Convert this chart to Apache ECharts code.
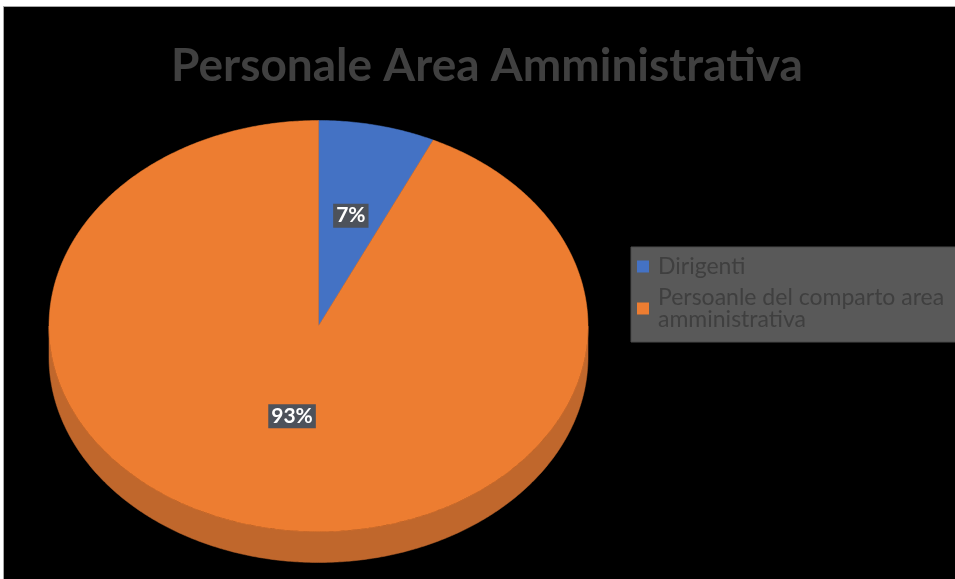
<!DOCTYPE html>
<html>
<head>
<meta charset="utf-8">
<script src="https://cdn.jsdelivr.net/npm/echarts@6/dist/echarts.min.js"></script>
<style>
  html, body { margin: 0; padding: 0; background: #ffffff; width: 955px; height: 579px; overflow: hidden; }
  #chart { position: absolute; left: 3px; top: 6px; width: 951px; height: 572px; background: #000000; border-left: 1px solid #a6a6a6; border-top: 1px solid #a6a6a6; }
</style>
</head>
<body>
<div id="chart"></div>
<script>
// ---- data ----
const titleText = 'Personale Area Amministrativa';
const categories = ['Dirigenti', 'Persoanle del comparto area amministrativa'];
const values = [7, 93];

// ---- styles / layout ----
const topColors = ['#4472c4', '#ed7d31'];
const sideColors = ['#345ba0', '#c0672c'];
const labelRadius = [0.55, 0.45];
const PIE = { cx: 314.5, cy: 319, rx: 269.5, ry: 205.5, depth: 31 };

const total = values.reduce((a, b) => a + b, 0);

function makeRender(idx) {
  return function (params, api) {
    const v = api.value(0);
    let before = 0;
    for (let k = 0; k < idx; k++) before += values[k];
    const a0 = before / total * Math.PI * 2;
    const a1 = (before + v) / total * Math.PI * 2;
    const th0 = a0 - Math.PI / 2, th1 = a1 - Math.PI / 2;
    const pt = (th, dy) => [PIE.cx + PIE.rx * Math.cos(th), PIE.cy + PIE.ry * Math.sin(th) + (dy || 0)];
    const N = Math.max(8, Math.ceil((th1 - th0) / (Math.PI / 360)));
    const children = [];
    // side wall (front half only)
    const s = Math.max(th0, 0), e = Math.min(th1, Math.PI);
    if (e > s) {
      const sidePts = [];
      const M = Math.max(8, Math.ceil((e - s) / (Math.PI / 360)));
      for (let j = 0; j <= M; j++) sidePts.push(pt(s + (e - s) * j / M, 0));
      for (let j = M; j >= 0; j--) sidePts.push(pt(s + (e - s) * j / M, PIE.depth));
      children.push({ type: 'polygon', shape: { points: sidePts }, style: { fill: sideColors[idx], stroke: sideColors[idx], lineWidth: 0.5 } });
    }
    // top face
    const topPts = [[PIE.cx, PIE.cy]];
    for (let j = 0; j <= N; j++) topPts.push(pt(th0 + (th1 - th0) * j / N, 0));
    children.push({ type: 'polygon', shape: { points: topPts }, style: { fill: topColors[idx], stroke: topColors[idx], lineWidth: 0.5 } });
    // label
    const mid = (th0 + th1) / 2;
    const r = labelRadius[idx];
    children.push({
      type: 'text',
      x: PIE.cx + PIE.rx * r * Math.cos(mid),
      y: PIE.cy + PIE.ry * r * Math.sin(mid),
      z2: 10,
      style: {
        text: Math.round(v / total * 100) + '%',
        fill: '#ffffff',
        font: 'bold 21px Lato, sans-serif',
        align: 'center',
        verticalAlign: 'middle',
        backgroundColor: '#4d525b',
        padding: [2, 3, 1, 3]
      }
    });
    return { type: 'group', children: children };
  };
}

const chart = echarts.init(document.getElementById('chart'), null, { renderer: 'canvas' });
chart.setOption({
  backgroundColor: '#000000',
  animation: false,
  title: {
    text: titleText,
    left: 483,
    top: 36,
    padding: 0,
    textAlign: 'center',
    textStyle: { color: '#404040', fontSize: 46, fontWeight: 'bold', fontFamily: 'Lato, sans-serif' }
  },
  legend: {
    orient: 'vertical',
    left: 627,
    top: 240,
    backgroundColor: '#595959',
    borderColor: '#4a4a4a',
    borderWidth: 1,
    padding: [8, 3, 11, 6],
    itemWidth: 20,
    itemHeight: 12,
    itemGap: 8,
    icon: 'path://M0,0h12v12h-12z',
    data: categories,
    textStyle: { color: '#3f3f3f', fontSize: 23, fontFamily: 'Lato, sans-serif', width: 300, overflow: 'break', lineHeight: 22 }
  },
  series: categories.map((name, i) => ({
    type: 'custom',
    name: name,
    coordinateSystem: 'none',
    color: topColors[i],
    data: [[values[i]]],
    renderItem: makeRender(i)
  }))
});
</script>
</body>
</html>
